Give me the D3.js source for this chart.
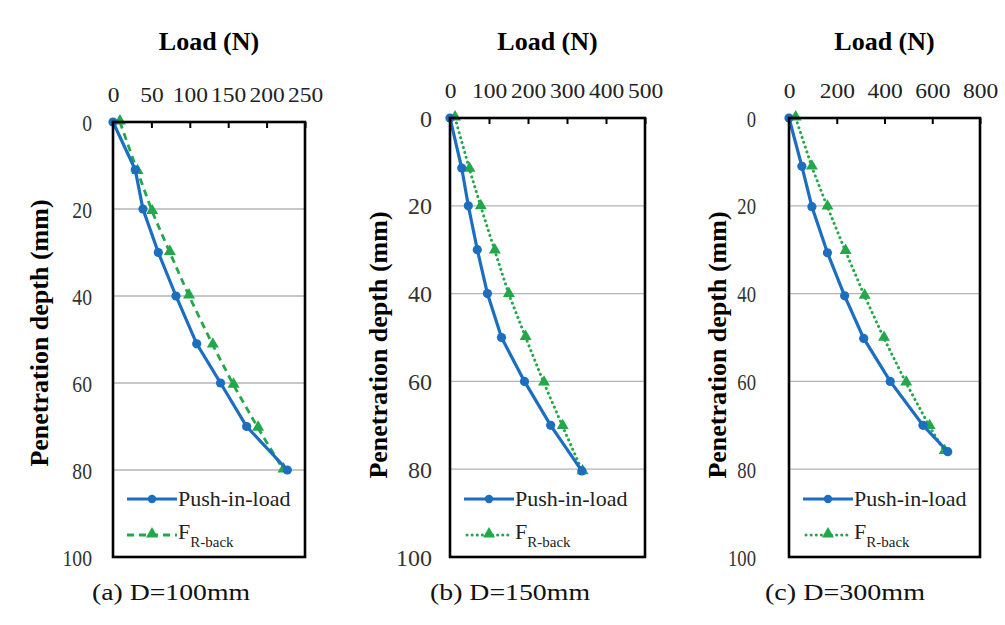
<!DOCTYPE html>
<html><head><meta charset="utf-8">
<script src="https://cdn.jsdelivr.net/npm/d3@7"></script>
<style>body{margin:0;background:#fff}svg{display:block}
svg text{font-family:"Liberation Serif","DejaVu Serif","Times New Roman",serif;}
</style>
</head><body>
<svg id="chart" width="1005" height="625"></svg>
<script>
// ---------- data ----------
const seriesNames = ["Push-in-load", "F", "R-back"];
const yTicks = [0, 20, 40, 60, 80, 100];
const xTicksA = [0, 50, 100, 150, 200, 250];
const xTicksB = [0, 100, 200, 300, 400, 500];
const xTicksC = [0, 200, 400, 600, 800];
const captions = ["(a) D=100mm", "(b) D=150mm", "(c) D=300mm"];

const depthA_push = [0, 11, 20, 30, 40, 51, 60, 70, 80];
const loadA_push  = [0, 29, 39, 59, 82, 109, 140, 174, 227];
const depthA_fr   = [0, 11.4, 20.6, 30, 40, 51.3, 60.5, 70.4, 80];
const loadA_fr    = [9, 32, 51, 74, 99, 130, 157, 189, 222];

const depthB_push = [0, 11.4, 20, 30, 40, 50, 60, 70, 80.4];
const loadB_push  = [0, 30, 47, 70, 96, 132, 191, 258, 338];
const depthB_fr   = [0, 11.7, 20.2, 30.3, 40.2, 50, 60.4, 70.3, 80.6];
const loadB_fr    = [13, 50, 79, 115, 151, 194, 241, 289, 340];

const depthC_push = [0, 11, 20.2, 30.7, 40.5, 50.2, 60, 70, 76];
const loadC_push  = [0, 54, 96, 161, 233, 313, 424, 561, 665];
const depthC_fr   = [0, 11.2, 20.3, 30.4, 40.6, 50.2, 60.4, 70.3, 76];
const loadC_fr    = [28, 96, 161, 237, 317, 398, 491, 589, 652];

// ---------- layout / style ----------
const BLUE = "#1b6ec0", GREEN = "#22a84a";
const panels = [
  {x0:113, x1:305, y0:122, y1:557, xmax:250, xt:xTicksA, push:[depthA_push, loadA_push], fr:[depthA_fr, loadA_fr],
   dash:"7,5", ylabR:92, ylabSX:0.82, ytx:39, yty:333, capX:92, capW:158, legDot:false},
  {x0:450, x1:645, y0:118, y1:557, xmax:500, xt:xTicksB, push:[depthB_push, loadB_push], fr:[depthB_fr, loadB_fr],
   dash:"0.1,5", ylabR:432, ylabSX:1, ytx:378, yty:345, capX:430, capW:160, legDot:true},
  {x0:789, x1:980, y0:118, y1:557, xmax:800, xt:xTicksC, push:[depthC_push, loadC_push], fr:[depthC_fr, loadC_fr],
   dash:"0.1,5", ylabR:756, ylabSX:0.78, ytx:717, yty:345, capX:765, capW:160, legDot:true}
];

const svg = d3.select("#chart");

panels.forEach((p, i) => {
  const x = d3.scaleLinear().domain([0, p.xmax]).range([p.x0, p.x1]);
  const y = d3.scaleLinear().domain([0, 100]).range([p.y0, p.y1]);
  const g = svg.append("g");

  // gridlines
  g.selectAll("line.grid").data(yTicks.filter(t => t > 0 && t < 100)).enter().append("line")
    .attr("x1", p.x0).attr("x2", p.x1).attr("y1", d => y(d)).attr("y2", d => y(d))
    .attr("stroke", "#b4b4b4").attr("stroke-width", 1.3);

  // top axis
  const xa = d3.axisTop(x).tickValues(p.xt).tickSize(-6).tickFormat(d3.format("d"));
  const ax = g.append("g").attr("transform", `translate(0,${p.y0})`).call(xa);
  ax.attr("font-family", null);
  ax.select(".domain").remove();
  ax.selectAll(".tick line").attr("stroke", "#000").attr("stroke-width", 2);
  ax.selectAll(".tick text").attr("font-size", 21).attr("fill", "#222")
    .attr("y", -20).attr("dy", 0).attr("x", 0).attr("transform", "scale(1.12,1)");

  // left axis labels
  const ya = d3.axisLeft(y).tickValues(yTicks).tickSize(0).tickPadding(0).tickFormat(d3.format("d"));
  const ay = g.append("g").attr("transform", `translate(${p.ylabR},0)`).call(ya);
  ay.attr("font-family", null);
  ay.select(".domain").remove();
  ay.selectAll(".tick text").attr("font-size", 24).attr("fill", "#333")
    .attr("x", 0).attr("dy", "0.34em").attr("transform", `scale(${p.ylabSX},1)`);

  // titles
  g.append("text").attr("x", (p.x0 + p.x1) / 2).attr("y", 50).attr("text-anchor", "middle")
    .attr("font-weight", "bold").attr("font-size", 26).text("Load (N)");
  g.append("text").attr("transform", `translate(${p.ytx + 9},${p.yty}) rotate(-90)`).attr("text-anchor", "middle")
    .attr("font-weight", "bold").attr("font-size", 26).text("Penetration depth (mm)");

  // caption
  g.append("text").attr("x", p.capX).attr("y", 600).attr("textLength", p.capW).attr("lengthAdjust", "spacingAndGlyphs")
    .attr("font-size", 23).attr("fill", "#111").text(captions[i]);

  // legend background
  g.append("rect").attr("x", p.x0).attr("y", 480).attr("width", p.x1 - p.x0).attr("height", p.y1 - 480).attr("fill", "#fff");

  const line = d3.line().x(d => x(d[1])).y(d => y(d[0]));
  const pushPts = p.push[0].map((d, k) => [d, p.push[1][k]]);
  const frPts = p.fr[0].map((d, k) => [d, p.fr[1][k]]);
  const tri = d3.symbol().type(d3.symbolTriangle).size(62);

  // FR-back series
  g.append("path").datum(frPts).attr("d", line).attr("fill", "none").attr("stroke", GREEN)
    .attr("stroke-width", p.legDot ? 3 : 2.8).attr("stroke-dasharray", p.dash).attr("stroke-linecap", p.legDot ? "round" : "butt");
  g.selectAll("path.tri").data(frPts).enter().append("path").attr("d", tri)
    .attr("transform", d => `translate(${x(d[1])},${y(d[0]) - 1})`).attr("fill", GREEN);

  // Push-in-load series
  g.append("path").datum(pushPts).attr("d", line).attr("fill", "none").attr("stroke", BLUE).attr("stroke-width", 3.2);
  g.selectAll("circle.pt").data(pushPts).enter().append("circle")
    .attr("cx", d => x(d[1])).attr("cy", d => y(d[0])).attr("r", 4.6).attr("fill", BLUE);

  // plot border
  g.append("rect").attr("x", p.x0).attr("y", p.y0).attr("width", p.x1 - p.x0).attr("height", p.y1 - p.y0)
    .attr("fill", "none").attr("stroke", "#000").attr("stroke-width", 2.6);

  // legend
  const lx = p.x0 + 14, ly1 = 499, ly2 = 535;
  g.append("line").attr("x1", lx).attr("x2", lx + 50).attr("y1", ly1).attr("y2", ly1).attr("stroke", BLUE).attr("stroke-width", 3.2);
  g.append("circle").attr("cx", lx + 25).attr("cy", ly1).attr("r", 4.2).attr("fill", BLUE);
  g.append("text").attr("x", lx + 51).attr("y", ly1 + 7).attr("font-size", 22).attr("fill", "#222").text(seriesNames[0]);
  if (p.legDot) {
    g.append("line").attr("x1", lx + 3).attr("x2", lx + 46).attr("y1", ly2).attr("y2", ly2).attr("stroke", GREEN)
      .attr("stroke-width", 3).attr("stroke-dasharray", "0.1,5").attr("stroke-linecap", "round");
  } else {
    g.append("line").attr("x1", lx).attr("x2", lx + 50).attr("y1", ly2).attr("y2", ly2).attr("stroke", GREEN)
      .attr("stroke-width", 2.8).attr("stroke-dasharray", "7,5");
  }
  g.append("path").attr("d", tri).attr("transform", `translate(${lx + 25},${ly2 - 1})`).attr("fill", GREEN);
  const ft = g.append("text").attr("x", lx + 51).attr("y", ly2 + 4).attr("font-size", 22).attr("fill", "#222");
  ft.append("tspan").text(seriesNames[1]);
  ft.append("tspan").attr("font-size", 15).attr("dy", 8).text(seriesNames[2]);
});
</script>
</body></html>
